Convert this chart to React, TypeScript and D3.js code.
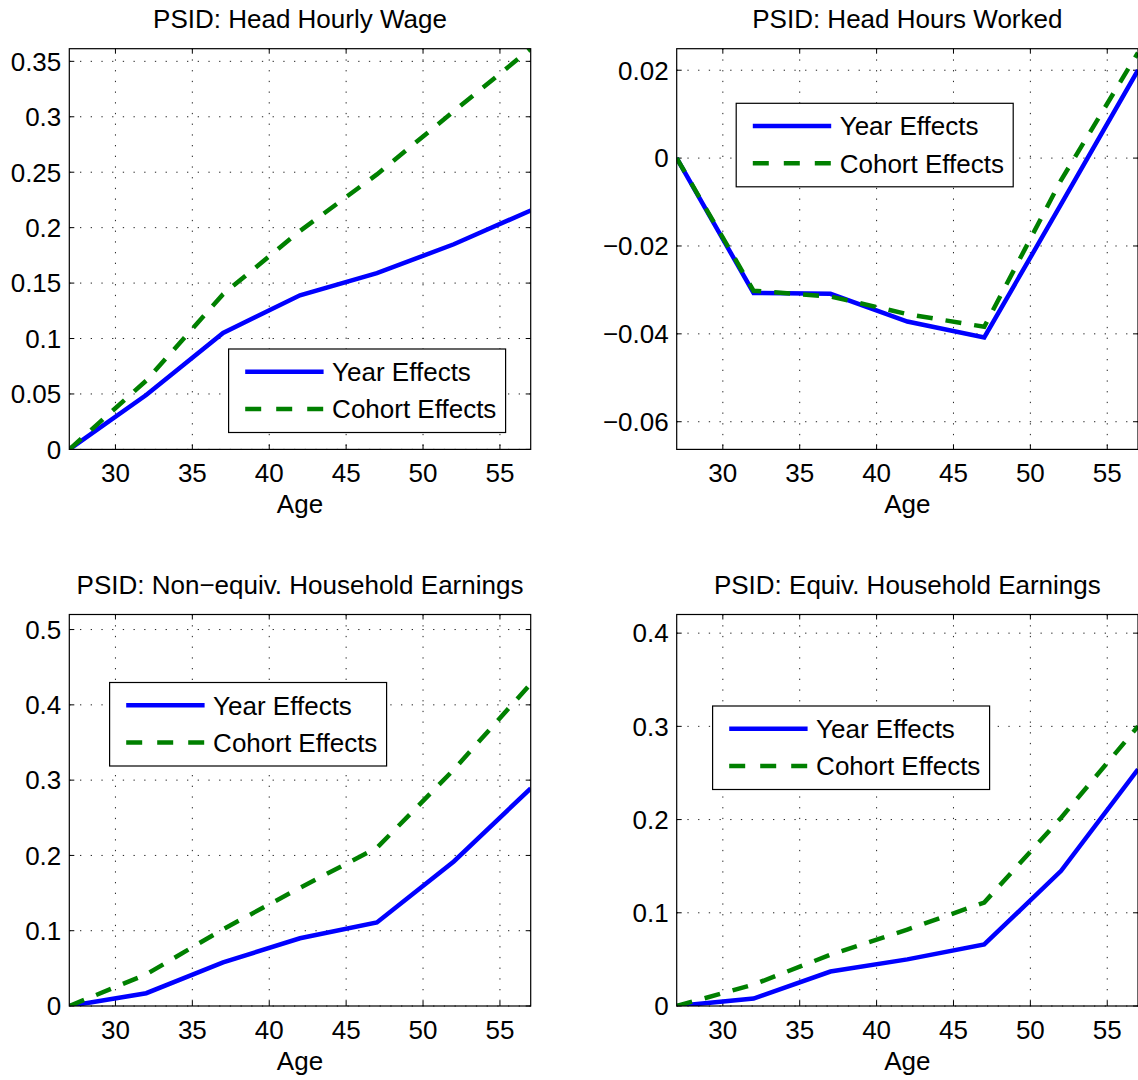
import React from "react";
import { scaleLinear, line } from "d3";

// ages on the x axis
const ages = [27, 32, 37, 42, 47, 52, 57];
const ageTicks = [30, 35, 40, 45, 50, 55];

// head hourly wage
const wageYear = [0, 0.049, 0.105, 0.139, 0.159, 0.185, 0.2155];
const wageCohort = [0, 0.062, 0.14, 0.197, 0.248, 0.305, 0.3614];
const wageTicks = [0, 0.05, 0.1, 0.15, 0.2, 0.25, 0.3, 0.35];

// head hours worked
const hoursYear = [0, -0.0307, -0.0309, -0.0372, -0.0408, -0.0105, 0.02];
const hoursCohort = [0, -0.0302, -0.0315, -0.0355, -0.0384, -0.005, 0.024];
const hoursTicks = [-0.06, -0.04, -0.02, 0, 0.02];

// non-equivalised household earnings
const neYear = [0, 0.017, 0.058, 0.09, 0.111, 0.192, 0.289];
const neCohort = [0, 0.042, 0.102, 0.157, 0.21, 0.314, 0.428];
const neTicks = [0, 0.1, 0.2, 0.3, 0.4, 0.5];

// equivalised household earnings
const eqYear = [0, 0.008, 0.037, 0.05, 0.066, 0.145, 0.254];
const eqCohort = [0, 0.023, 0.055, 0.082, 0.111, 0.202, 0.3];
const eqTicks = [0, 0.1, 0.2, 0.3, 0.4];

const seriesNames = ["Year Effects", "Cohort Effects"];

const FONT = "'Liberation Sans', Arial, Helvetica, sans-serif";
const FS = 26;
const BLUE = "#0000ff";
const GREEN = "#008000";
const LW = 4.5;

const fmt = (v) => {
  const s = String(Math.round(v * 1000) / 1000);
  return s.replace("-", "\u2212");
};

const Panel = ({ id, x0, x1, y0, y1, yDomain, yTicks, year, cohort, title, legend }) => {
  const xScale = scaleLinear().domain([27, 57]).range([x0, x1]);
  const yScale = scaleLinear().domain(yDomain).range([y1, y0]);
  const gen = line()
    .x((d) => xScale(d[0]))
    .y((d) => yScale(d[1]));
  const yearPts = ages.map((a, i) => [a, year[i]]);
  const cohortPts = ages.map((a, i) => [a, cohort[i]]);
  const tl = 5;
  const lw = 277;
  const lh = 83.5;

  return (
    <g>
      <defs>
        <clipPath id={`clip-${id}`}>
          <rect x={x0} y={y0} width={x1 - x0} height={y1 - y0} />
        </clipPath>
      </defs>
      <rect x={x0} y={y0} width={x1 - x0} height={y1 - y0} fill="#fff" />
      {/* grid */}
      {ageTicks.map((t) => (
        <line key={"gx" + t} x1={xScale(t)} x2={xScale(t)} y1={y0} y2={y1}
          stroke="#222" strokeWidth={1} strokeDasharray="1.3 9.4" />
      ))}
      {yTicks.map((t) => (
        <line key={"gy" + t} x1={x0} x2={x1} y1={yScale(t)} y2={yScale(t)}
          stroke="#222" strokeWidth={1} strokeDasharray="1.3 9.4" />
      ))}
      {/* ticks */}
      {ageTicks.map((t) => (
        <g key={"tx" + t} stroke="#000" strokeWidth={1}>
          <line x1={xScale(t)} x2={xScale(t)} y1={y1} y2={y1 - tl} />
          <line x1={xScale(t)} x2={xScale(t)} y1={y0} y2={y0 + tl} />
        </g>
      ))}
      {yTicks.map((t) => (
        <g key={"ty" + t} stroke="#000" strokeWidth={1}>
          <line x1={x0} x2={x0 + tl} y1={yScale(t)} y2={yScale(t)} />
          <line x1={x1} x2={x1 - tl} y1={yScale(t)} y2={yScale(t)} />
        </g>
      ))}
      {/* data */}
      <g clipPath={`url(#clip-${id})`}>
        <path d={gen(yearPts)} fill="none" stroke={BLUE} strokeWidth={LW} />
        <path d={gen(cohortPts)} fill="none" stroke={GREEN} strokeWidth={LW}
          strokeDasharray="16 13" />
      </g>
      <rect x={x0} y={y0} width={x1 - x0} height={y1 - y0} fill="none"
        stroke="#000" strokeWidth={1.2} />
      {/* tick labels */}
      {ageTicks.map((t) => (
        <text key={"lx" + t} x={xScale(t)} y={y1 + 32.5} textAnchor="middle"
          fontFamily={FONT} fontSize={FS}>{t}</text>
      ))}
      {yTicks.map((t) => (
        <text key={"ly" + t} x={x0 - 8} y={yScale(t) + 9.3} textAnchor="end"
          fontFamily={FONT} fontSize={FS}>{fmt(t)}</text>
      ))}
      <text x={(x0 + x1) / 2} y={y1 + 63.5} textAnchor="middle" fontFamily={FONT}
        fontSize={FS}>Age</text>
      <text x={(x0 + x1) / 2} y={y0 - 20.4} textAnchor="middle" fontFamily={FONT}
        fontSize={FS}>{title}</text>
      {/* legend */}
      <g transform={`translate(${legend[0]},${legend[1]})`}>
        <rect x={0} y={0} width={lw} height={lh} fill="#fff" stroke="#000" strokeWidth={1.2} />
        <line x1={16.6} x2={95} y1={22.7} y2={22.7} stroke={BLUE} strokeWidth={LW} />
        <line x1={16.6} x2={95} y1={60} y2={60} stroke={GREEN} strokeWidth={LW}
          strokeDasharray="16 15" />
        <text x={103.5} y={22.7 + 9.3} fontFamily={FONT} fontSize={FS}>{seriesNames[0]}</text>
        <text x={103.5} y={60 + 9.3} fontFamily={FONT} fontSize={FS}>{seriesNames[1]}</text>
      </g>
    </g>
  );
};

export default function App() {
  const L = [69.3, 530.7];
  const R = [676.7, 1138];
  const T = [48.7, 449.4];
  const B = [614.5, 1006];
  return (
    <svg width={1138} height={1080} style={{ position: "absolute", left: 0, top: 0, background: "#fff" }}>
      <rect x={0} y={0} width={1138} height={1080} fill="#fff" />
      <Panel id="wage" x0={L[0]} x1={L[1]} y0={T[0]} y1={T[1]} yDomain={[0, 0.3614]}
        yTicks={wageTicks} year={wageYear} cohort={wageCohort}
        title="PSID: Head Hourly Wage" legend={[228.6, 349]} />
      <Panel id="hours" x0={R[0]} x1={R[1]} y0={T[0]} y1={T[1]} yDomain={[-0.0663, 0.0249]}
        yTicks={hoursTicks} year={hoursYear} cohort={hoursCohort}
        title="PSID: Head Hours Worked" legend={[736.2, 103.3]} />
      <Panel id="ne" x0={L[0]} x1={L[1]} y0={B[0]} y1={B[1]} yDomain={[0, 0.52]}
        yTicks={neTicks} year={neYear} cohort={neCohort}
        title={"PSID: Non\u2212equiv. Household Earnings"} legend={[109.6, 682.5]} />
      <Panel id="eq" x0={R[0]} x1={R[1]} y0={B[0]} y1={B[1]} yDomain={[0, 0.42]}
        yTicks={eqTicks} year={eqYear} cohort={eqCohort}
        title="PSID: Equiv. Household Earnings" legend={[712.6, 706]} />
    </svg>
  );
}
